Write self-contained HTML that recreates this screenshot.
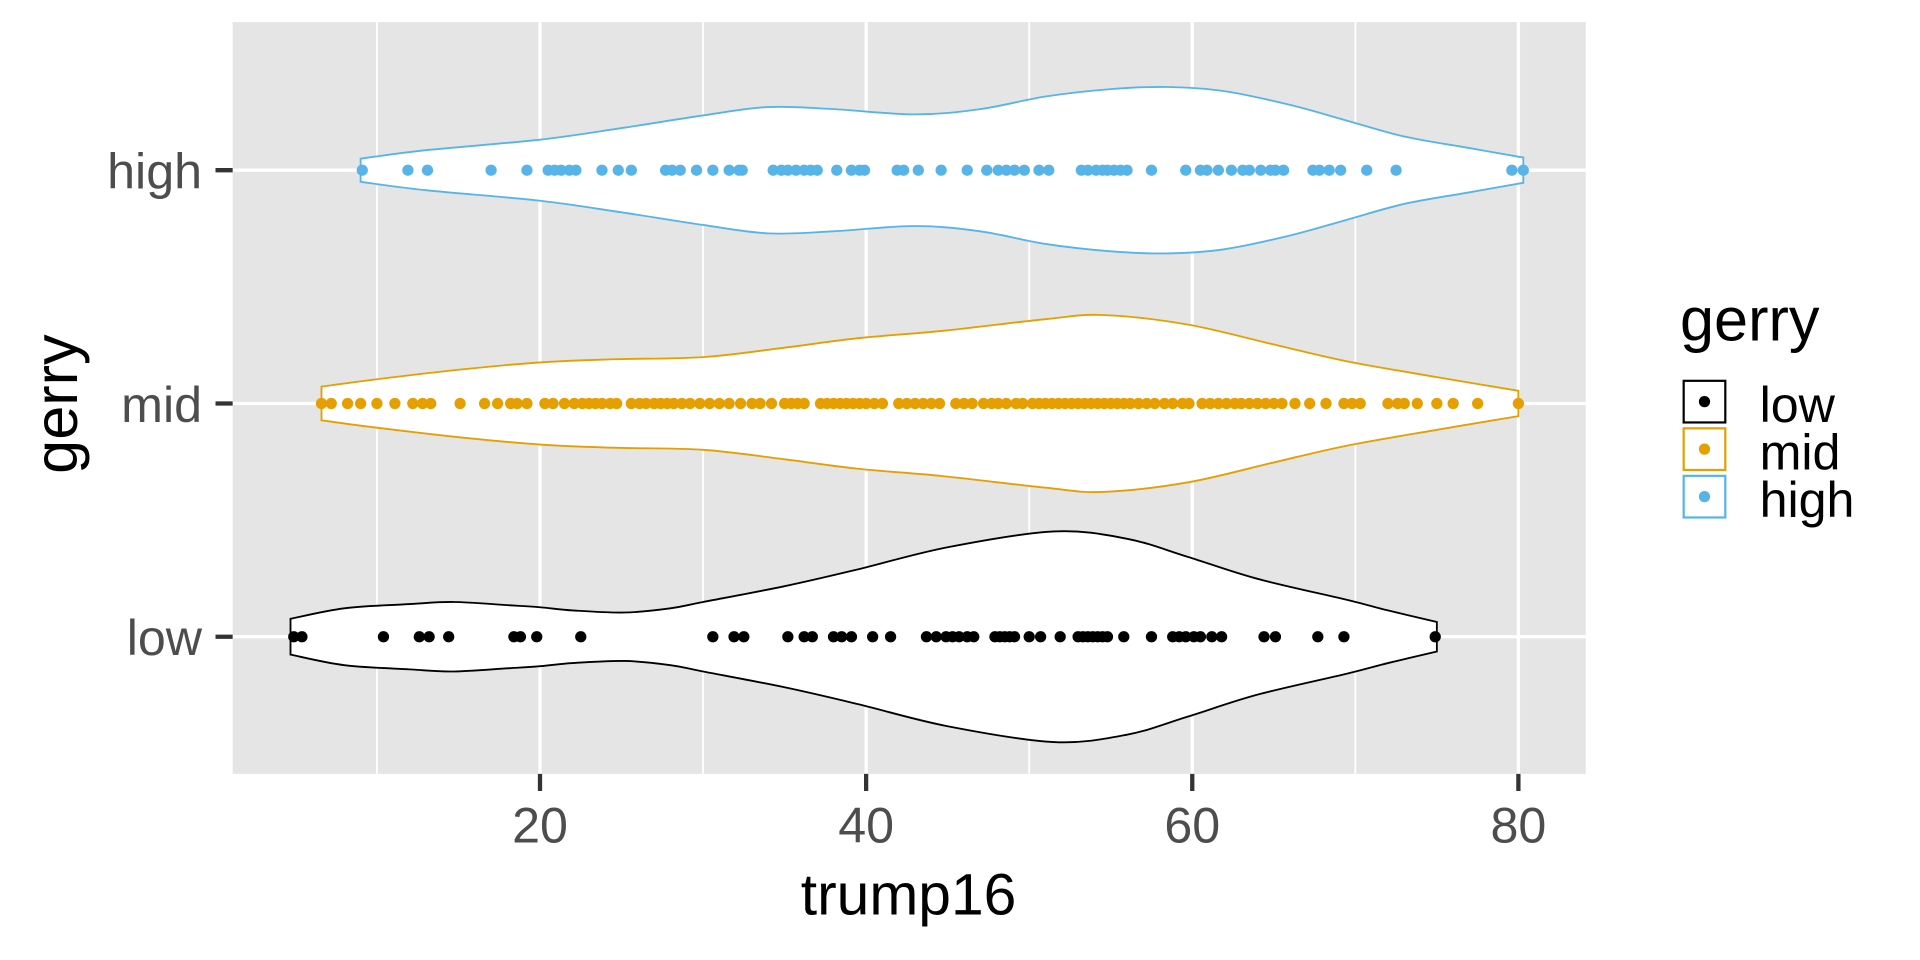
<!DOCTYPE html>
<html><head><meta charset="utf-8">
<style>
html,body{margin:0;padding:0;background:#fff;}
svg{display:block;font-family:"Liberation Sans",Arial,sans-serif;}
</style></head>
<body>
<svg id="chart" width="1920" height="960" viewBox="0 0 1568 784" xmlns="http://www.w3.org/2000/svg">
  <rect x="190" y="18" width="1105" height="614" fill="#e5e5e5"/>
  <g id="grid"></g>
  <g id="violins"></g>
  <g id="axes"></g>
  <text x="742" y="747" font-size="48" text-anchor="middle" fill="#000">trump16</text>
  <text transform="translate(63,330) rotate(-90)" font-size="50" text-anchor="middle" fill="#000">gerry</text>
  <g>
    <text x="1372" y="278" font-size="50" fill="#000">gerry</text>
    <g id="legend-keys"></g>
  </g>
</svg>
<script>
const categories = ["low","mid","high"];
const colors = ["#000000","#E69F00","#56B4E9"];
const xTicks = [20,40,60,80];
const xMinor = [10,30,50,70];
// violin half-width profiles: x values and density (relative, low max = 1)
const lowX = [4.7,8,12,14.7,18,20,22,25.2,28,30,35,39.5,45,51.5,56,59.7,64,69.5,72,75];
const lowD = [0.17,0.27,0.31,0.33,0.30,0.28,0.25,0.23,0.27,0.33,0.48,0.64,0.85,1.0,0.93,0.76,0.55,0.35,0.25,0.14];
const midX = [6.6,10,15,20,24.5,30,35,39.5,44.7,51,54.5,59.7,65,69.5,75,80];
const midD = [0.16,0.23,0.32,0.39,0.42,0.44,0.53,0.62,0.69,0.80,0.84,0.75,0.56,0.40,0.25,0.12];
const highX = [9.0,13,20,25,30,34,38,43,47,51,55,58.5,62,66,69.5,73,77,80.3];
const highD = [0.11,0.19,0.29,0.40,0.52,0.60,0.58,0.53,0.58,0.70,0.77,0.79,0.75,0.62,0.47,0.32,0.21,0.12];
const lowPts = [4.9,5.4,10.4,12.6,13.2,14.4,18.4,18.8,19.8,22.5,30.6,31.9,32.5,35.2,36.2,36.7,38.0,38.5,39.1,40.4,41.5,43.7,44.3,44.9,45.3,45.7,46.2,46.6,47.9,48.2,48.5,48.8,49.1,50.0,50.7,51.9,53.0,53.3,53.6,53.9,54.2,54.5,54.8,55.8,57.5,58.8,59.2,59.6,60.1,60.5,61.2,61.8,64.4,65.1,67.7,69.3,74.9];
const midPts = [6.6,7.2,8.2,9.0,10.0,11.1,12.2,12.8,13.3,15.1,16.6,17.4,18.2,18.6,19.2,20.3,20.8,21.5,22.1,22.6,23.0,23.4,23.8,24.3,24.7,25.6,26.1,26.5,27.0,27.4,27.8,28.2,28.7,29.2,29.8,30.4,31.0,31.6,32.3,33.0,33.5,34.2,35.0,35.4,35.8,36.2,37.2,37.6,38.0,38.4,38.8,39.2,39.6,40.0,40.5,41.0,42.0,42.5,43.0,43.5,44.0,44.5,45.5,46.0,46.5,47.2,47.7,48.1,48.6,49.2,49.6,50.2,50.6,51.0,51.4,51.8,52.2,52.6,53.0,53.4,53.8,54.2,54.6,55.0,55.4,55.8,56.2,56.7,57.2,57.7,58.3,58.8,59.4,59.8,60.6,61.1,61.6,62.1,62.6,63.0,63.5,64.0,64.5,65.0,65.5,66.3,67.2,68.2,69.3,69.8,70.3,72.0,72.6,73.0,73.8,75.0,76.0,77.5,80.0];
const highPts = [9.1,11.9,13.1,17.0,19.2,20.5,20.9,21.3,21.8,22.2,23.8,24.8,25.6,27.7,28.1,28.6,29.6,30.6,31.6,32.2,32.4,34.3,34.8,35.2,35.7,36.2,36.6,37.0,38.2,39.1,39.6,39.9,41.9,42.3,43.2,44.6,46.2,47.4,48.1,48.6,49.1,49.7,50.6,51.2,53.2,53.6,54.1,54.5,54.8,55.2,55.6,56.0,57.5,59.6,60.5,60.9,61.6,62.4,63.1,63.5,64.2,64.8,65.1,65.6,67.4,67.8,68.4,69.1,70.7,72.5,79.6,80.3];

const NS = "http://www.w3.org/2000/svg";
const xs = v => 441 + (v - 20) * 13.317;
const ys = i => 520 - i * 190.5;
const wScale = d => d * 86;
function mk(tag, attrs, parent){
  const e = document.createElementNS(NS, tag);
  for (const k in attrs) e.setAttribute(k, attrs[k]);
  parent.appendChild(e);
  return e;
}
const grid = document.getElementById('grid');
xMinor.forEach(v => {
  const l = mk('line', {x1:xs(v), x2:xs(v), y1:18, y2:632, stroke:'#fff', 'stroke-width':1.5}, grid);
  
  
});
xTicks.forEach(v => {
  const l = mk('line', {x1:xs(v), x2:xs(v), y1:18, y2:632, stroke:'#fff', 'stroke-width':2.7}, grid);
  
  
});
categories.forEach((c, i) => {
  const l = mk('line', {x1:190, x2:1295, y1:ys(i), y2:ys(i), stroke:'#fff', 'stroke-width':2.7}, grid);
  
  
});

const profiles = [[lowX, lowD], [midX, midD], [highX, highD]];
const pts = [lowPts, midPts, highPts];
const vg = document.getElementById('violins');
function smoothPath(p){
  let d = `M${p[0][0]},${p[0][1]}`;
  for (let i = 0; i < p.length - 1; i++){
    const p0 = p[Math.max(0, i-1)], p1 = p[i], p2 = p[i+1], p3 = p[Math.min(p.length-1, i+2)];
    const c1x = p1[0] + (p2[0]-p0[0])/6, c1y = p1[1] + (p2[1]-p0[1])/6;
    const c2x = p2[0] - (p3[0]-p1[0])/6, c2y = p2[1] - (p3[1]-p1[1])/6;
    d += ` C${c1x},${c1y} ${c2x},${c2y} ${p2[0]},${p2[1]}`;
  }
  return d;
}
categories.forEach((c, i) => {
  const [px, pd] = profiles[i];
  const cy = ys(i);
  const top = px.map((v, k) => [xs(v), cy - wScale(pd[k])]);
  const bot = px.map((v, k) => [xs(v), cy + wScale(pd[k])]).reverse();
  let d = smoothPath(top);
  d += ` L${bot[0][0]},${bot[0][1]}` + smoothPath(bot).replace(/^M[^C]*/, ' ') + ' Z';
  const path = mk('path', {d, fill:'#fff', stroke:colors[i], 'stroke-width':1.5}, vg);
  
  
  const g = mk('g', {fill:colors[i]}, vg);
  
  
  pts[i].forEach(v => {
    const p = mk('circle', {cx:xs(v), cy:cy, r:4.6}, g);
    
    
  });
});

const ax = document.getElementById('axes');
xTicks.forEach(v => {
  const t = mk('line', {x1:xs(v), x2:xs(v), y1:632, y2:646, stroke:'#333', 'stroke-width':3.5}, ax);
  
  
  const l = mk('text', {x:xs(v), y:688, 'font-size':41, 'text-anchor':'middle', fill:'#4d4d4d'}, ax);
  l.textContent = v;
  
  
});
categories.forEach((c, i) => {
  const t = mk('line', {x1:176, x2:190, y1:ys(i), y2:ys(i), stroke:'#333', 'stroke-width':3.5}, ax);
  
  
  const l = mk('text', {x:165, y:ys(i)+15, 'font-size':41, 'text-anchor':'end', fill:'#4d4d4d'}, ax);
  l.textContent = c;
  
  
});

const lk = document.getElementById('legend-keys');
categories.forEach((c, i) => {
  const y0 = 311 + i * 38.8;
  const r = mk('rect', {x:1375, y:y0, width:34, height:34, fill:'#fff', stroke:colors[i], 'stroke-width':1.8}, lk);
  
  
  const d = mk('circle', {cx:1392, cy:y0+17, r:4.6, fill:colors[i]}, lk);
  
  
  const l = mk('text', {x:1437, y:y0+33.5, 'font-size':41, fill:'#000'}, lk);
  l.textContent = c;
  
  
});
</script>
</body></html>
